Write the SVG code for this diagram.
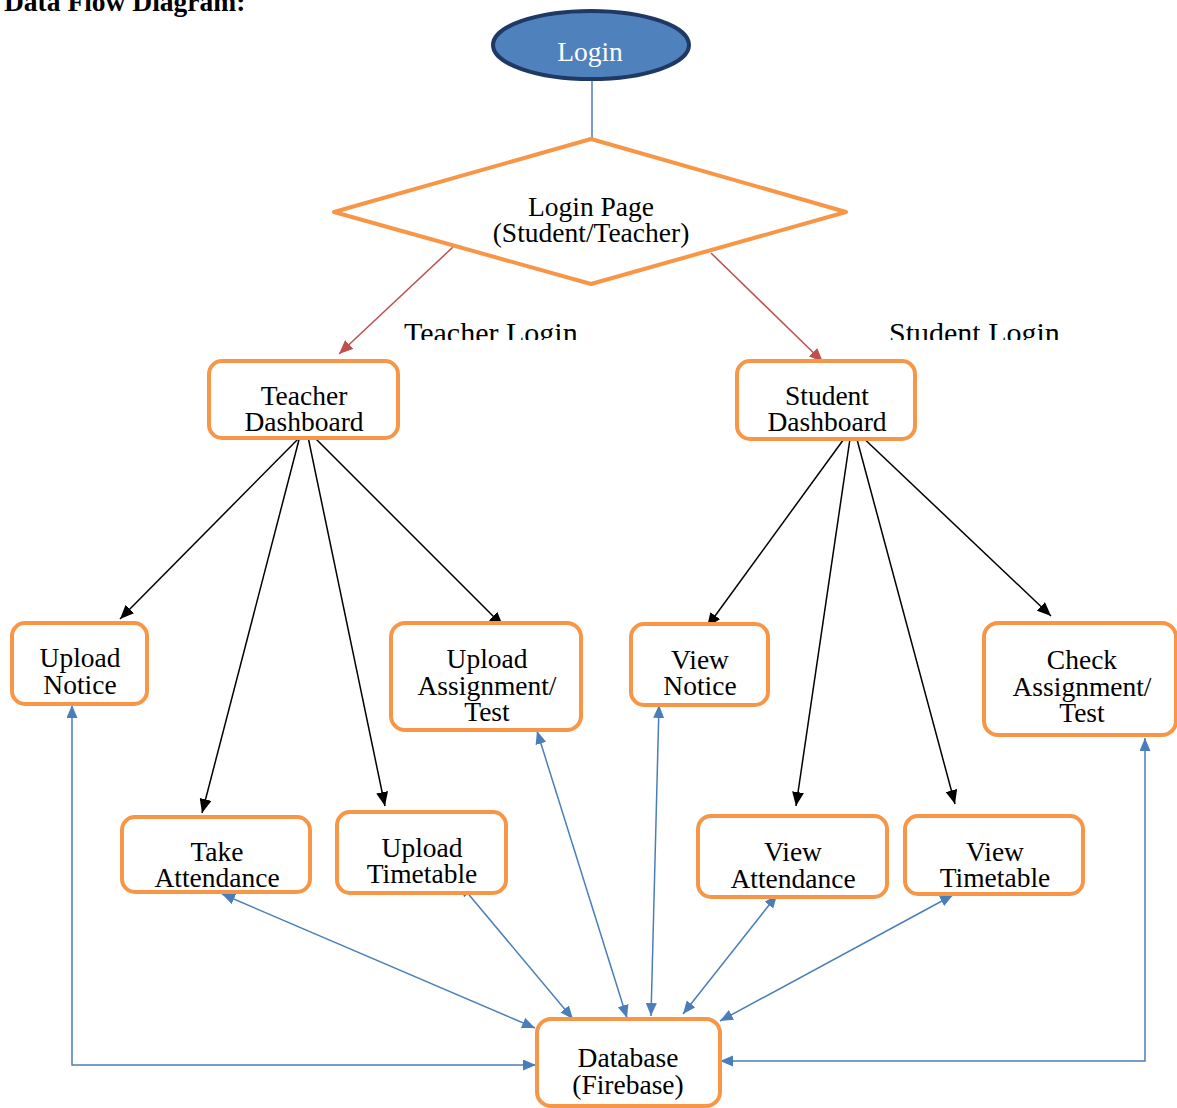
<svg xmlns="http://www.w3.org/2000/svg" width="1177" height="1108" viewBox="0 0 1177 1108">
<style>
text{font-family:"Liberation Serif","Times New Roman",serif;fill:#000;}
.t{font-size:27.5px;text-anchor:middle;}
.box{fill:#fff;stroke:#f79646;stroke-width:4;}
.blk{stroke:#000;stroke-width:1.5;fill:none;marker-end:url(#ab);}
.red{stroke:#c0504d;stroke-width:1.5;fill:none;marker-end:url(#ar);}
.blu{stroke:#4a7ebb;stroke-width:1.5;fill:none;marker-start:url(#au);marker-end:url(#au);}
</style>
<defs>
<marker id="ab" markerUnits="userSpaceOnUse" markerWidth="16" markerHeight="12" refX="14" refY="6" orient="auto"><path d="M0,0 L14,6 L0,12 z" fill="#000"/></marker>
<marker id="ar" markerUnits="userSpaceOnUse" markerWidth="16" markerHeight="12" refX="14" refY="6" orient="auto"><path d="M0,0 L14,6 L0,12 z" fill="#c0504d"/></marker>
<marker id="au" markerUnits="userSpaceOnUse" markerWidth="14" markerHeight="12" refX="13" refY="5.5" orient="auto-start-reverse"><path d="M0,0 L13,5.5 L0,11 z" fill="#4a7ebb"/></marker>
<clipPath id="lc"><rect x="0" y="300" width="1177" height="40"/></clipPath>
</defs>

<text x="4" y="11" font-size="27.5" font-weight="bold">Data Flow Diagram:</text>

<g id="connectors">
<line x1="592" y1="80" x2="592" y2="139" stroke="#4a7ebb" stroke-width="1.5"/>
<line class="red" x1="453" y1="247" x2="339" y2="354"/>
<line class="red" x1="711" y1="253" x2="823" y2="362"/>
<line class="blk" x1="305" y1="432" x2="120" y2="619"/>
<line class="blk" x1="301" y1="432" x2="202" y2="813"/>
<line class="blk" x1="307" y1="432" x2="385" y2="806"/>
<line class="blk" x1="309" y1="432" x2="503" y2="626"/>
<line class="blk" x1="849" y1="432" x2="707" y2="627"/>
<line class="blk" x1="851" y1="432" x2="796" y2="806"/>
<line class="blk" x1="855" y1="432" x2="955" y2="804"/>
<line class="blk" x1="857" y1="432" x2="1051" y2="616"/>
<path class="blu" d="M72,705 V1065 H536"/>
<line class="blu" x1="222" y1="894" x2="535" y2="1028"/>
<line class="blu" x1="460" y1="884" x2="573" y2="1019"/>
<line class="blu" x1="537" y1="731" x2="627" y2="1018"/>
<line class="blu" x1="659" y1="705" x2="651" y2="1016"/>
<line class="blu" x1="777" y1="895" x2="683" y2="1014"/>
<line class="blu" x1="953" y1="895" x2="720" y2="1021"/>
<path class="blu" d="M1145,738 V1061 H720"/>
</g>

<g clip-path="url(#lc)">
<text x="404" y="343" font-size="30">Teacher Login</text>
<text x="889" y="343" font-size="30">Student Login</text>
</g>

<g id="login">
<ellipse cx="591" cy="45" rx="98" ry="34" fill="#4f81bd" stroke="#1f3864" stroke-width="4"/>
<text class="t" x="590" y="61" style="fill:#fff">Login</text>
</g>

<g id="loginPage">
<polygon class="box" points="591,139 846,212 591,284 334,212" stroke-linejoin="round"/>
<text class="t" x="591" y="216">Login Page</text>
<text class="t" x="591" y="242">(Student/Teacher)</text>
</g>

<g id="teacherDashboard">
<rect class="box" x="209" y="361" width="189" height="77" rx="13"/>
<text class="t" x="304" y="405">Teacher</text>
<text class="t" x="304" y="431">Dashboard</text>
</g>

<g id="studentDashboard">
<rect class="box" x="737" y="361" width="178" height="78" rx="13"/>
<text class="t" x="827" y="405">Student</text>
<text class="t" x="827" y="431">Dashboard</text>
</g>

<g id="uploadNotice">
<rect class="box" x="12" y="623" width="135" height="81" rx="13"/>
<text class="t" x="80" y="667">Upload</text>
<text class="t" x="80" y="694">Notice</text>
</g>

<g id="uploadAssignment">
<rect class="box" x="391" y="623" width="190" height="107" rx="14"/>
<text class="t" x="487" y="668">Upload</text>
<text class="t" x="487" y="695">Assignment/</text>
<text class="t" x="487" y="721">Test</text>
</g>

<g id="viewNotice">
<rect class="box" x="631" y="624" width="137" height="81" rx="13"/>
<text class="t" x="700" y="669">View</text>
<text class="t" x="700" y="695">Notice</text>
</g>

<g id="checkAssignment">
<rect class="box" x="984" y="623" width="192" height="112" rx="14"/>
<text class="t" x="1082" y="669">Check</text>
<text class="t" x="1082" y="696">Assignment/</text>
<text class="t" x="1082" y="722">Test</text>
</g>

<g id="takeAttendance">
<rect class="box" x="122" y="817" width="188" height="75" rx="13"/>
<text class="t" x="217" y="861">Take</text>
<text class="t" x="217" y="887">Attendance</text>
</g>

<g id="uploadTimetable">
<rect class="box" x="337" y="812" width="169" height="81" rx="13"/>
<text class="t" x="422" y="857">Upload</text>
<text class="t" x="422" y="883">Timetable</text>
</g>

<g id="viewAttendance">
<rect class="box" x="698" y="816" width="189" height="81" rx="13"/>
<text class="t" x="793" y="861">View</text>
<text class="t" x="793" y="888">Attendance</text>
</g>

<g id="viewTimetable">
<rect class="box" x="905" y="816" width="178" height="78" rx="13"/>
<text class="t" x="995" y="861">View</text>
<text class="t" x="995" y="887">Timetable</text>
</g>

<g id="database">
<rect class="box" x="537" y="1019" width="183" height="87" rx="14"/>
<text class="t" x="628" y="1067">Database</text>
<text class="t" x="628" y="1094">(Firebase)</text>
</g>
</svg>
